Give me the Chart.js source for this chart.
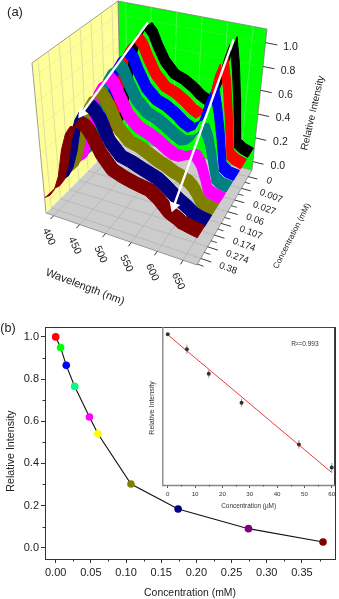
<!DOCTYPE html>
<html><head><meta charset="utf-8">
<script src="https://cdn.jsdelivr.net/npm/chart.js@4/dist/chart.umd.js"></script>
<style>
html,body{margin:0;padding:0;background:#fff;width:339px;height:599px;overflow:hidden}
canvas{position:absolute;filter:blur(0.35px)}
#a{left:0;top:0}#b{left:0;top:315px}#c{left:140px;top:320px}
</style></head><body>
<canvas id="a" width="339" height="315"></canvas>
<canvas id="b" width="339" height="284"></canvas>
<canvas id="c" width="199" height="200"></canvas>
<script>
// ---------- data: panel (a) ----------
const wavelengths=[385,395,405,415,425,435,445,455,465,475,490,510,530,550,565,580,595,605,615,623,632,640,648,660,677];
const sBlack  =[.06,.12,.26,.50,.72,.88,.96,1.0,.95,.85,.73,.64,.61,.56,.51,.48,.55,.68,.90,1.02,.80,.52,.18,.15,.13];
const sRed    =[.06,.12,.25,.48,.69,.85,.93,.97,.92,.82,.70,.61,.58,.53,.48,.45,.51,.63,.84,.94,.74,.48,.18,.15,.13];
const sBlue   =[.06,.11,.24,.45,.66,.81,.89,.93,.88,.78,.66,.58,.55,.50,.45,.42,.46,.55,.70,.79,.62,.42,.17,.14,.13];
const sTeal   =[.06,.11,.23,.43,.63,.78,.86,.90,.85,.75,.63,.55,.52,.47,.43,.40,.42,.46,.53,.55,.46,.32,.17,.14,.13];
const sMagenta=[.06,.10,.21,.39,.59,.74,.82,.86,.81,.72,.59,.51,.48,.44,.40,.37,.37,.39,.41,.41,.36,.27,.16,.14,.13];
const sOlive  =[.05,.10,.19,.35,.55,.70,.78,.81,.77,.69,.55,.47,.45,.41,.38,.36,.33,.32,.30,.29,.26,.22,.16,.14,.13];
const sNavy   =[.05,.09,.17,.31,.52,.66,.74,.77,.73,.66,.52,.43,.41,.38,.36,.34,.30,.27,.24,.22,.20,.18,.155,.14,.13];
const sMaroon =[.05,.08,.14,.26,.48,.62,.69,.70,.68,.62,.50,.40,.37,.35,.34,.33,.29,.25,.21,.195,.18,.16,.155,.145,.135];
const ribbons=[sBlack,sRed,sBlue,sTeal,sMagenta,sOlive,sNavy,sMaroon];
const ribbonColors=['#000000','#ff0000','#0000ff','#008080','#ff00ff','#808000','#000080','#800000'];
const concLabels=['0','0.007','0.027','0.06','0.107','0.174','0.274','0.38'];
const wlTicks=[400,450,500,550,600,650];
const intensityTicks=[0,0.2,0.4,0.6,0.8,1.0];
// ---------- data: panel (b) ----------
const conc=[0,0.007,0.015,0.027,0.048,0.06,0.107,0.174,0.274,0.38];
const rel=[1,0.95,0.865,0.765,0.62,0.54,0.302,0.183,0.09,0.027];
const relColors=['#ff0000','#00ff00','#0000ff','#00ff80','#ff00ff','#ffff00','#808000','#000080','#800080','#800000'];
// ---------- data: inset ----------
const insetConc=[0,7,15,27,48,60];
const insetRel=[1,0.948,0.8635,0.764,0.62,0.54];
const insetErr=[0.003,0.016,0.014,0.014,0.015,0.016];
const fitX=[0,60];
const fitY=[0.998,0.523];

Chart.defaults.font.family='"Liberation Sans",Arial,sans-serif';
Chart.defaults.color='#222';
Chart.defaults.animation=false;

// pseudo-3D projection of (wavelength fraction, depth fraction, intensity) into the panel's scales
const cB=[121,138],cR=[252,170],cL=[46,213],cF=[197,265];
const hB=[-3,-137],hR=[15,-141],hL=[-14,-150],hF=[0,-155];
const bil=(a,b,c,d,u,v,i)=>(1-u)*(1-v)*a[i]+u*(1-v)*b[i]+(1-u)*v*c[i]+u*v*d[i];
const hMin=-0.07,hMax=1.115;
function P(u,v,h){
  const f=(h-hMin)/(hMax-hMin);
  return {x:bil(cB,cR,cL,cF,u,v,0)+f*bil(hB,hR,hL,hF,u,v,0),
          y:bil(cB,cR,cL,cF,u,v,1)+f*bil(hB,hR,hL,hF,u,v,1)};
}
const U=w=>(w-385)/292, V=i=>0.07+0.123*i, HALF=i=>0.05+0.002*i;
const poly=(pts,c,bc)=>({data:pts,fill:'shape',backgroundColor:c,borderColor:bc||c,borderWidth:bc?0.7:1,pointRadius:0,tension:0});
const seg=(a,b,c,w)=>({data:[a,b],borderColor:c,borderWidth:w,pointRadius:0,fill:false});

const ds=[];
ds.push(poly([P(0,0,hMin),P(0,0,hMax),P(1,0,hMax),P(1,0,hMin)],'#00ff00','#777'));
ds.push(poly([P(0,0,hMin),P(0,0,hMax),P(0,1,hMax),P(0,1,hMin)],'#ffff99','#777'));
ds.push(poly([P(0,0,hMin),P(1,0,hMin),P(1,1,hMin),P(0,1,hMin)],'#cccccc','#777'));
wlTicks.forEach(w=>{
  ds.push(seg(P(U(w),0,hMin),P(U(w),0,hMax),'#5cf25c',0.8));
  ds.push(seg(P(U(w),0,hMin),P(U(w),1,hMin),'#b4b4b4',0.8));
  ds.push(seg(P(U(w),1,hMin),P(U(w),1.045,hMin),'#222',0.9));
});
concLabels.forEach((l,i)=>{
  ds.push(seg(P(0,V(i),hMin),P(0,V(i),hMax),'#d8d8a0',0.8));
  ds.push(seg(P(0,V(i),hMin),P(1,V(i),hMin),'#b4b4b4',0.8));
  ds.push(seg(P(1,V(i),hMin),P(1.07,V(i),hMin),'#222',0.9));
  ds.push(seg(P(1,V(i)+0.06,hMin),P(1.04,V(i)+0.06,hMin),'#222',0.8));
});
intensityTicks.forEach(h=>{
  ds.push(seg(P(0,0,h),P(1,0,h),'#3af03a',0.6));
  ds.push(seg(P(0,0,h),P(0,1,h),'#e4e4a8',0.6));
  ds.push(seg(P(1,0,h),P(1.08,0,h),'#222',0.9));
});
ribbons.forEach((vals,i)=>{
  const top=wavelengths.map((w,k)=>P(U(w),V(i)-HALF(i),vals[k]));
  const bot=wavelengths.map((w,k)=>P(U(w),V(i)+HALF(i),vals[k])).reverse();
  ds.push(poly(top.concat(bot),ribbonColors[i]));
});
function arrow(a,b){
  const deg=Math.atan2(b.x-a.x,-(b.y-a.y))*180/Math.PI;
  return {data:[a,b],borderColor:'#fff',borderWidth:2.4,fill:false,
    pointRadius:[0,6.5],pointStyle:'triangle',pointRotation:[0,deg],
    pointBackgroundColor:'#fff',pointBorderColor:'#fff',pointBorderWidth:0};
}
ds.push(arrow(P(U(455),V(0),1.03),P(U(455),V(6.8),0.76)));
ds.push(arrow(P(U(623),V(0),1.03),P(U(623),V(6.85),0.25)));

function txt(ctx,s,x,y,rot,size,align,color){
  ctx.save();ctx.translate(x,y);ctx.rotate(rot*Math.PI/180);
  ctx.font=size+'px "Liberation Sans",Arial,sans-serif';
  ctx.fillStyle=color||'#222';ctx.textAlign=align||'center';ctx.textBaseline='middle';
  ctx.fillText(s,0,0);ctx.restore();
}
const textA={id:'textA',afterDraw(ch){
  const c=ch.ctx,sx=ch.scales.x,sy=ch.scales.y;
  const at=p=>[sx.getPixelForValue(p.x),sy.getPixelForValue(p.y)];
  txt(c,'(a)',15,12,0,13);
  wlTicks.forEach(w=>{const [x,y]=at(P(U(w),1,hMin));txt(c,String(w),x-5,y+21,65,10.5);});
  concLabels.forEach((l,i)=>{const [x,y]=at(P(1,V(i),hMin));txt(c,l,x+18.5,y+3+4*V(i),20,9.5,'left');});
  intensityTicks.forEach(h=>{const [x,y]=at(P(1,0,h));txt(c,h.toFixed(1),x+25,y+4.5,0,10.5);});
  txt(c,'Wavelength (nm)',85,287,21,11);
  txt(c,'Relative Intensity',313,113,-77,10);
  txt(c,'Concentration (mM)',292,236,-63,8.2);
}};
new Chart(document.getElementById('a'),{type:'line',
  data:{datasets:ds.slice().reverse()},
  options:{responsive:false,layout:{padding:0,autoPadding:false},
    plugins:{legend:{display:false},tooltip:{enabled:false}},
    scales:{x:{type:'linear',min:0,max:339,display:false},y:{type:'linear',min:0,max:315,reverse:true,display:false}}},
  plugins:[textA]});

// ---------- panel (b) ----------
function minorTicks(ctx,scale,values,horizontal,len,color){
  ctx.save();ctx.strokeStyle=color;ctx.lineWidth=1;ctx.beginPath();
  values.forEach(v=>{const p=Math.round(scale.getPixelForValue(v))+0.5;
    if(horizontal){ctx.moveTo(p,scale.top);ctx.lineTo(p,scale.top+len);}
    else{ctx.moveTo(scale.right,p);ctx.lineTo(scale.right-len,p);}});
  ctx.stroke();ctx.restore();
}
const frameB={id:'frameB',afterDraw(ch){
  const c=ch.ctx,a=ch.chartArea;
  c.save();c.strokeStyle='#333';c.lineWidth=1;
  c.strokeRect(Math.round(a.left)+.5,Math.round(a.top)+.5,Math.round(a.right-a.left),Math.round(a.bottom-a.top));c.restore();
  minorTicks(c,ch.scales.x,[0.025,0.075,0.125,0.175,0.225,0.275,0.325,0.375],true,2.5,'#333');
  minorTicks(c,ch.scales.y,[0.1,0.3,0.5,0.7,0.9],false,2.5,'#333');
  txt(c,'(b)',8,14,0,12.5);
  txt(c,'Relative Intensity',11,136,-90,10.7);
}};
new Chart(document.getElementById('b'),{type:'line',
  data:{datasets:[{data:conc.map((x,i)=>({x,y:rel[i]})),borderColor:'#111',borderWidth:1.1,fill:false,tension:0,
    pointRadius:3.8,pointBackgroundColor:relColors,pointBorderWidth:0}]},
  options:{responsive:false,layout:{autoPadding:false,padding:{top:12,right:4,left:0,bottom:0}},
    plugins:{legend:{display:false},tooltip:{enabled:false}},
    scales:{
      x:{type:'linear',min:-0.0152,max:0.397,afterFit(s){s.height=40;},
        border:{color:'#333'},grid:{drawOnChartArea:false,tickLength:4,tickColor:'#333'},
        ticks:{stepSize:0.05,includeBounds:false,autoSkip:false,maxRotation:0,padding:3,font:{size:11},callback:v=>(+v).toFixed(2)},
        title:{display:true,text:'Concentration (mM)',font:{size:10.4},padding:{top:5,bottom:0}}},
      y:{type:'linear',min:-0.054,max:1.047,afterFit(s){s.width=45;},
        border:{color:'#333'},grid:{drawOnChartArea:false,tickLength:4,tickColor:'#333'},
        ticks:{stepSize:0.2,includeBounds:false,autoSkip:false,padding:2,font:{size:11},callback:v=>(+v).toFixed(1)}}
    }},
  plugins:[frameB]});

// ---------- inset ----------
const frameC={id:'frameC',afterDraw(ch){
  const c=ch.ctx,a=ch.chartArea;
  c.save();c.lineWidth=1;c.strokeStyle='#444';c.beginPath();
  c.moveTo(a.left,a.top+.5);c.lineTo(a.right-.5,a.top+.5);c.lineTo(a.right-.5,a.bottom);c.stroke();
  c.lineWidth=1.4;c.strokeStyle='#888';c.beginPath();
  c.moveTo(a.left+.5,a.top);c.lineTo(a.left+.5,a.bottom+.5);c.lineTo(a.right,a.bottom+.5);c.stroke();c.restore();
  minorTicks(c,ch.scales.x,[5,15,25,35,45,55],true,1.5,'#555');
  txt(c,'R²=0.993',165,24,0,6.6,'center','#333');
  txt(c,'Relative Intensity',12,88,-90,7,'center','#333');
}};
const errPts=[];
insetConc.forEach((x,i)=>{errPts.push({x,y:insetRel[i]-insetErr[i]},{x,y:insetRel[i]+insetErr[i]},{x,y:null});});
new Chart(document.getElementById('c'),{type:'line',
  data:{datasets:[
    {data:insetConc.map((x,i)=>({x,y:insetRel[i]})),showLine:false,pointRadius:2,pointBackgroundColor:'#333',pointBorderWidth:0},
    {data:fitX.map((x,i)=>({x,y:fitY[i]})),borderColor:'#f03838',borderWidth:1,pointRadius:0,fill:false},
    {data:errPts,borderColor:'#999',borderWidth:1,pointRadius:0,fill:false,spanGaps:false}
  ]},
  options:{responsive:false,layout:{autoPadding:false,padding:{top:7,right:4,left:0,bottom:10}},
    plugins:{legend:{display:false},tooltip:{enabled:false}},
    scales:{
      x:{type:'linear',min:-2,max:61.2,afterFit(s){s.height=25;},
        border:{display:false},grid:{drawOnChartArea:false,tickLength:3,tickColor:'#555'},
        ticks:{stepSize:10,includeBounds:false,autoSkip:false,maxRotation:0,padding:3,font:{size:6.2},color:'#333'},
        title:{display:true,text:'Concentration (µM)',font:{size:6.4},color:'#333',padding:{top:3,bottom:0}}},
      y:{type:'linear',min:0.48,max:1.025,afterFit(s){s.width=22.3;},
        border:{display:false},grid:{display:false,drawTicks:false},
        ticks:{display:false},title:{display:false}}
    }},
  plugins:[frameC]});
</script>
</body></html>
